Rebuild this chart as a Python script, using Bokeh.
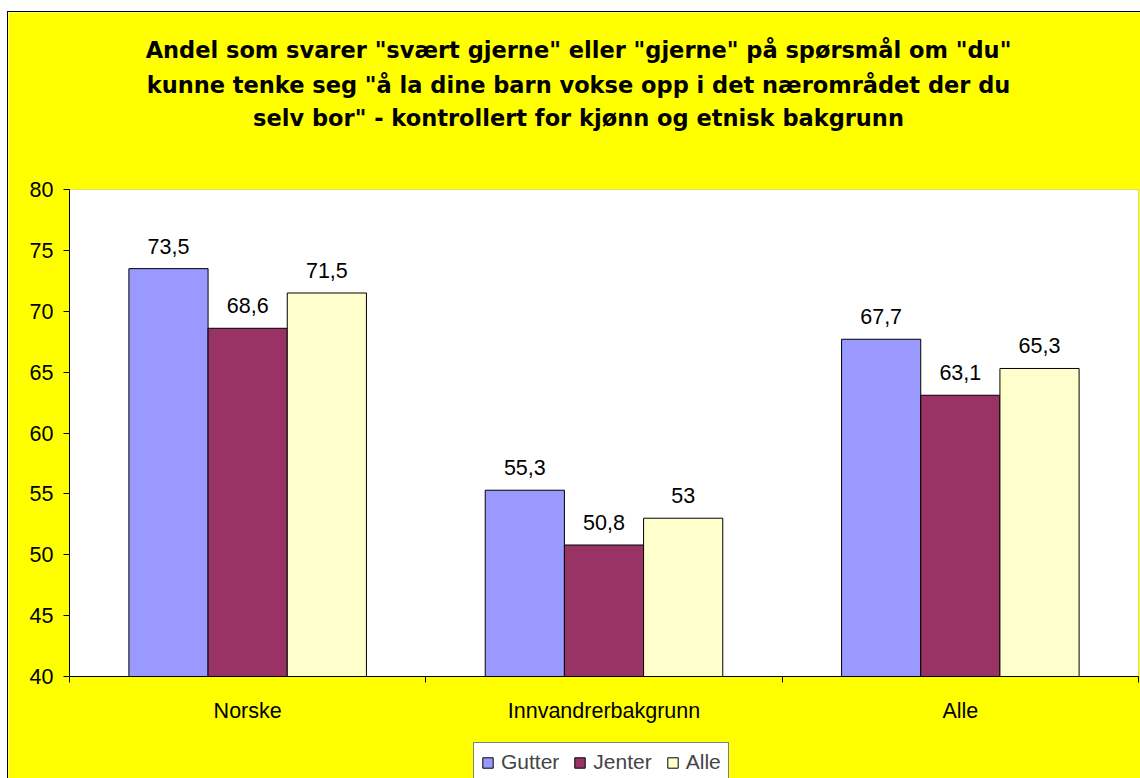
from bokeh.plotting import figure
from bokeh.models import (Range1d, FixedTicker, Legend, LegendItem, Label,
                          ColumnDataSource, LinearAxis, BoxAnnotation)
from bokeh.core.properties import value
from bokeh.embed import file_html
from bokeh.resources import INLINE

# ---- data ----
categories = ["Norske", "Innvandrerbakgrunn", "Alle"]
series = ["Gutter", "Jenter", "Alle"]
gutter = [73.5, 55.3, 67.7]
jenter = [68.6, 50.8, 63.1]
alle = [71.5, 53.0, 65.3]
colors = ["#9999FF", "#993366", "#FFFFCC"]
y_ticks = [40, 45, 50, 55, 60, 65, 70, 75, 80]
y_min, y_max = 40, 80
title_lines = [
    'Andel som svarer "svært gjerne" eller "gjerne" på spørsmål om "du"',
    'kunne tenke seg "å la dine barn vokse opp i det nærområdet der du',
    'selv bor" - kontrollert for kjønn og etnisk bakgrunn',
]

FONT = "Liberation Sans"
FS = "21.5px"

W, H = 1132, 766
# plot area inside the canvas (pixels)
PL, PR, PT, PB = 61, 1130, 177, 664
n = len(categories)
xpx = (PR - PL) / n
ypx = (PB - PT) / (y_max - y_min)
x_range = Range1d(-PL / xpx, n + (W - PR) / xpx)
y_range = Range1d(y_min - (H - PB) / ypx, y_max + PT / ypx)

p = figure(width=W, height=H, output_backend="svg", toolbar_location=None,
           x_range=x_range, y_range=y_range, title=None,
           x_axis_type=None, y_axis_type=None)
p.margin = (12, 0, 0, 8)
p.styles = {"outline": "1px solid black"}
p.min_border = 0
p.min_border_top = 0
p.min_border_bottom = 0
p.min_border_left = 0
p.min_border_right = 0
p.border_fill_color = "#FFFF00"
p.background_fill_color = "#FFFF00"
p.outline_line_color = None
p.xgrid.visible = False
p.ygrid.visible = False

# white plot area with grey outline
p.add_layout(BoxAnnotation(left=0, right=n, bottom=y_min, top=y_max,
                           fill_color="white", fill_alpha=1,
                           line_color="#808080", line_width=1,
                           level="underlay"))

# y axis
yax = LinearAxis(ticker=FixedTicker(ticks=y_ticks), fixed_location=0,
                 bounds=(y_min, y_max))
yax.axis_line_color = "black"
yax.major_tick_line_color = "black"
yax.major_tick_out = 6
yax.major_tick_in = 0
yax.minor_tick_line_color = None
yax.major_label_text_font = FONT
yax.major_label_text_font_size = FS
yax.major_label_text_color = "black"
yax.major_label_standoff = 10
p.add_layout(yax, "left")

# x axis: labels at category centres, ticks at boundaries
centers = [i + 0.5 for i in range(n)]
bounds = [float(i) for i in range(n + 1)]
xax = LinearAxis(ticker=FixedTicker(ticks=centers, minor_ticks=bounds),
                 fixed_location=y_min, bounds=(0, n))
xax.major_label_overrides = {c: name for c, name in zip(centers, categories)}
xax.axis_line_color = "black"
xax.major_tick_out = 0
xax.major_tick_in = 0
xax.minor_tick_out = 6
xax.minor_tick_in = 0
xax.minor_tick_line_color = "black"
xax.major_label_text_font = FONT
xax.major_label_text_font_size = FS
xax.major_label_text_color = "black"
xax.major_label_standoff = 16
p.add_layout(xax, "below")

# bars
bar_w = 0.2222
offsets = [-bar_w, 0.0, bar_w]
items = []
for name, vals, col, off in zip(series, [gutter, jenter, alle], colors, offsets):
    src = ColumnDataSource(dict(
        x=[c + off for c in centers],
        top=vals,
        lbl=[f"{v:g}".replace(".", ",") for v in vals],
    ))
    r = p.vbar(x="x", top="top", bottom=y_min, width=bar_w, source=src,
               fill_color=col, line_color="black", line_width=1)
    p.text(x="x", y="top", text="lbl", source=src, text_align="center",
           text_baseline="bottom", y_offset=-15, text_font=value(FONT),
           text_font_size=FS, text_color="black")
    items.append(LegendItem(label=name, renderers=[r]))

# title (three centred lines above the plot area)
title_px = [49, 84.5, 117.5]   # line centres, page pixels
for line, ty in zip(title_lines, title_px):
    p.add_layout(Label(x=570, y=H - (ty - 12), x_units="screen", y_units="screen",
                       text=line, text_align="center", text_baseline="middle",
                       text_font="DejaVu Sans", text_font_size="22.5px",
                       text_font_style="bold", text_color="black"))

legend = Legend(items=items, orientation="horizontal", location=(465, -4))
legend.border_line_color = "black"
legend.border_line_width = 1
legend.background_fill_color = "white"
legend.background_fill_alpha = 1
legend.label_text_font = FONT
legend.label_text_font_size = "21px"
legend.glyph_width = 13
legend.glyph_height = 13
legend.label_standoff = 7
legend.spacing = 14
legend.padding = 7
legend.margin = 0
p.add_layout(legend, "center")

open("out.html", "w").write(file_html(p, INLINE))
